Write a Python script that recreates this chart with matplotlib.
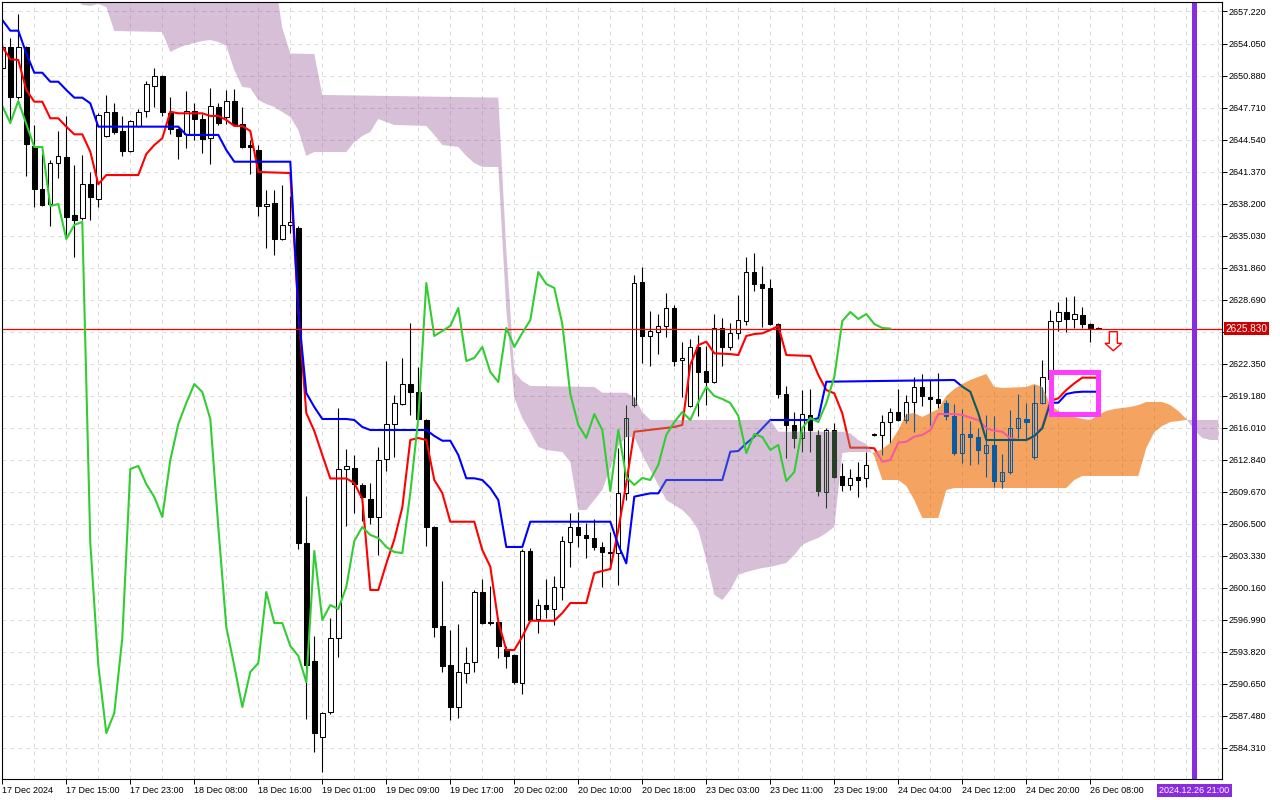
import numpy as np
import matplotlib
matplotlib.use('Agg')
import matplotlib.pyplot as plt
from matplotlib.path import Path
from matplotlib.patches import PathPatch, Rectangle, Polygon
from matplotlib.transforms import blended_transform_factory

plt.rcParams['font.family'] = ['Liberation Sans', 'DejaVu Sans']

# XAUUSD H1 candles, bar 0 = 17 Dec 2024 07:00
opens = [2651.63, 2653.71, 2648.76, 2653.71, 2643.91, 2639.65, 2638.16, 2642.22, 2642.82, 2637.07,
         2636.78, 2640.14, 2638.66, 2644.89, 2647.27, 2645.39, 2643.41, 2645.89, 2647.37, 2649.85,
         2650.84, 2647.17, 2645.59, 2645.09, 2647.37, 2646.58, 2644.70, 2647.77, 2646.78, 2648.36,
         2646.08, 2644.00, 2643.51, 2637.97, 2638.26, 2634.70, 2636.09, 2635.79, 2604.60, 2592.92,
         2585.40, 2587.87, 2595.20, 2611.93, 2612.03, 2610.35, 2608.96, 2607.18, 2612.92, 2616.38,
         2618.36, 2620.34, 2619.55, 2616.78, 2606.19, 2596.39, 2592.52, 2588.37, 2591.73, 2592.82,
         2599.75, 2596.78, 2596.78, 2594.11, 2593.52, 2590.74, 2603.81, 2597.08, 2598.46, 2598.07,
         2600.25, 2604.70, 2606.19, 2605.40, 2605.10, 2604.21, 2603.71, 2603.61, 2609.55, 2618.26,
         2630.44, 2625.10, 2625.49, 2626.09, 2627.87, 2622.72, 2618.17, 2624.01, 2621.63, 2620.54,
         2625.89, 2624.01, 2625.39, 2626.58, 2631.43, 2630.24, 2629.85, 2626.28, 2619.35, 2616.29,
         2615.00, 2617.28, 2615.30, 2609.65, 2615.79, 2611.24, 2610.35, 2611.14, 2611.04, 2615.39,
         2615.30, 2616.58, 2617.57, 2616.78, 2618.56, 2620.05, 2619.06, 2618.86, 2618.46, 2617.18,
         2613.51, 2615.39, 2615.10, 2613.51, 2614.31, 2610.74, 2611.63, 2615.99, 2616.88, 2613.12,
         2618.46, 2620.84, 2626.58, 2627.47, 2626.78, 2627.17, 2626.28, 2625.89]
highs = [2654.00, 2654.60, 2656.97, 2653.81, 2645.98, 2643.11, 2642.52, 2645.39, 2646.88, 2642.02,
         2643.01, 2641.33, 2647.17, 2648.96, 2648.16, 2646.88, 2646.48, 2647.57, 2650.34, 2651.63,
         2650.94, 2648.76, 2645.69, 2649.35, 2648.16, 2647.07, 2649.65, 2648.16, 2649.45, 2649.55,
         2647.77, 2644.50, 2644.00, 2639.55, 2639.55, 2640.05, 2638.96, 2635.99, 2609.26, 2595.40,
         2587.87, 2597.18, 2617.97, 2613.91, 2613.32, 2610.54, 2610.54, 2614.11, 2622.62, 2619.25,
         2622.92, 2626.38, 2622.03, 2616.88, 2606.29, 2600.84, 2595.99, 2596.58, 2594.31, 2599.95,
         2601.04, 2600.35, 2596.88, 2594.41, 2593.61, 2604.01, 2604.11, 2599.06, 2601.04, 2601.34,
         2605.30, 2607.57, 2607.67, 2606.58, 2606.98, 2604.70, 2605.69, 2614.01, 2618.26, 2631.14,
         2631.93, 2627.57, 2627.27, 2629.35, 2628.17, 2624.50, 2624.80, 2625.20, 2624.11, 2627.27,
         2626.88, 2626.38, 2629.15, 2632.92, 2633.31, 2632.03, 2630.74, 2626.38, 2620.15, 2617.57,
         2619.75, 2619.85, 2615.79, 2615.99, 2616.48, 2612.52, 2611.93, 2612.62, 2613.61, 2615.49,
         2617.28, 2617.97, 2619.85, 2619.25, 2621.04, 2621.33, 2620.74, 2621.43, 2618.76, 2618.36,
         2617.87, 2616.68, 2615.99, 2617.28, 2617.18, 2613.42, 2617.77, 2619.35, 2618.46, 2620.25,
         2622.72, 2627.67, 2628.46, 2628.96, 2629.06, 2627.97, 2626.38, 2626.00]
lows = [2651.43, 2646.18, 2648.56, 2640.94, 2637.87, 2637.97, 2635.99, 2640.74, 2635.09, 2632.91,
        2636.58, 2636.58, 2637.87, 2644.80, 2645.09, 2642.92, 2643.30, 2645.80, 2646.78, 2647.77,
        2646.88, 2645.09, 2642.62, 2643.71, 2644.50, 2643.21, 2642.12, 2645.98, 2646.08, 2645.89,
        2643.70, 2641.13, 2636.98, 2633.81, 2633.12, 2634.60, 2635.29, 2604.01, 2587.18, 2583.91,
        2581.93, 2587.70, 2593.32, 2606.29, 2607.57, 2606.78, 2606.48, 2603.42, 2611.73, 2613.12,
        2618.26, 2617.28, 2616.78, 2604.31, 2595.30, 2591.83, 2587.08, 2587.28, 2590.74, 2591.83,
        2596.58, 2596.49, 2593.22, 2592.23, 2590.64, 2589.65, 2596.88, 2595.69, 2597.18, 2596.49,
        2598.96, 2602.23, 2604.21, 2603.12, 2603.91, 2600.25, 2602.03, 2600.45, 2608.86, 2618.07,
        2622.42, 2622.13, 2623.31, 2625.00, 2622.13, 2619.06, 2618.07, 2617.18, 2618.26, 2620.44,
        2622.13, 2623.71, 2624.80, 2626.19, 2629.55, 2625.99, 2626.19, 2618.96, 2613.02, 2614.01,
        2613.61, 2613.61, 2609.26, 2608.07, 2611.04, 2609.75, 2609.85, 2609.16, 2610.15, 2615.20,
        2613.32, 2614.50, 2616.68, 2616.48, 2615.59, 2618.17, 2616.29, 2617.97, 2616.78, 2613.32,
        2612.52, 2612.33, 2612.42, 2611.14, 2610.15, 2610.05, 2611.43, 2615.00, 2614.90, 2612.92,
        2618.36, 2617.77, 2625.59, 2625.49, 2625.89, 2625.89, 2624.50, 2625.75]
closes = [2653.71, 2648.76, 2653.71, 2644.10, 2639.65, 2638.07, 2642.22, 2642.92, 2636.88, 2636.58,
          2640.14, 2638.86, 2646.97, 2647.27, 2645.29, 2643.41, 2646.38, 2647.27, 2650.04, 2650.84,
          2647.27, 2645.59, 2644.89, 2647.37, 2646.58, 2644.60, 2647.87, 2646.18, 2648.36, 2646.08,
          2643.81, 2643.81, 2637.97, 2638.16, 2634.70, 2636.09, 2636.38, 2604.60, 2592.52, 2585.79,
          2587.77, 2595.20, 2611.93, 2612.23, 2610.44, 2609.16, 2607.18, 2612.82, 2616.38, 2618.46,
          2620.34, 2619.55, 2616.88, 2606.19, 2596.29, 2592.43, 2588.37, 2591.83, 2592.72, 2599.75,
          2596.68, 2596.68, 2594.41, 2593.42, 2590.84, 2603.81, 2596.98, 2598.46, 2598.07, 2600.25,
          2604.80, 2606.19, 2605.40, 2605.10, 2604.21, 2603.71, 2603.61, 2609.55, 2616.98, 2630.34,
          2625.10, 2625.59, 2626.09, 2627.87, 2622.62, 2622.92, 2624.01, 2621.53, 2620.54, 2625.89,
          2624.01, 2625.39, 2626.68, 2631.43, 2630.24, 2629.85, 2626.28, 2619.35, 2616.29, 2615.00,
          2617.37, 2615.79, 2609.75, 2615.79, 2611.14, 2610.35, 2611.04, 2610.84, 2612.33, 2615.30,
          2616.58, 2617.57, 2616.78, 2618.56, 2620.05, 2619.16, 2618.86, 2618.46, 2617.18, 2613.51,
          2615.39, 2615.10, 2613.81, 2614.31, 2610.74, 2611.63, 2615.99, 2616.98, 2616.58, 2618.46,
          2621.04, 2626.58, 2627.47, 2626.78, 2627.27, 2626.28, 2625.89, 2625.83]

# Ichimoku lines, read as (bar, value) vertices
tenkan_idx = [0, 1, 2, 3, 4, 5, 6, 7, 8, 9, 10, 11, 12, 13, 17, 18, 19, 20, 21, 22, 25, 26, 27, 28, 29, 30,
              31, 32, 36, 37, 38, 39, 40, 41, 43, 44, 45, 46, 47, 48, 49, 50, 51, 52, 53, 54, 55, 56, 59,
              60, 61, 62, 63, 64, 65, 66, 69, 70, 71, 73, 74, 76, 77, 78, 79, 84, 85, 86, 87, 88, 89, 91,
              92, 93, 94, 95, 96, 97, 98, 101, 102, 103, 104, 105, 106, 108, 109, 110, 111, 112, 113,
              114, 115, 116, 117, 119, 120, 121, 122, 123, 124, 125, 126, 127, 128, 129, 130, 131, 132,
              133, 134, 135, 137]
tenkan_val = [2653.74, 2652.49, 2652.42, 2649.45, 2648.29, 2648.29, 2646.65, 2646.65, 2645.82, 2645.06,
              2645.06, 2643.34, 2640.11, 2641.03, 2641.03, 2643.11, 2644.00, 2644.67, 2647.30, 2647.14,
              2647.14, 2646.88, 2646.88, 2646.48, 2645.89, 2645.89, 2645.39, 2641.33, 2641.23, 2627.67,
              2617.47, 2615.69, 2613.32, 2610.99, 2610.99, 2610.54, 2608.96, 2599.95, 2599.95, 2602.56,
              2604.94, 2608.13, 2614.80, 2615.00, 2614.80, 2610.84, 2609.55, 2606.71, 2606.71, 2603.91,
              2602.26, 2596.81, 2594.01, 2594.01, 2595.33, 2596.91, 2596.91, 2597.67, 2598.66, 2598.66,
              2601.63, 2602.03, 2605.89, 2610.54, 2615.62, 2616.09, 2616.29, 2622.23, 2624.20, 2624.53,
              2623.38, 2623.31, 2623.21, 2625.10, 2625.29, 2625.36, 2625.69, 2626.09, 2623.21, 2623.12,
              2621.24, 2619.75, 2619.42, 2617.44, 2614.04, 2614.04, 2613.98, 2612.65, 2612.82, 2614.53,
              2614.63, 2615.13, 2615.30, 2615.79, 2617.37, 2617.37, 2617.28, 2617.01, 2616.78, 2615.96,
              2615.72, 2615.62, 2614.97, 2614.80, 2614.80, 2615.13, 2616.12, 2618.66, 2618.93, 2619.75,
              2620.41, 2620.97, 2620.97]
kijun_idx = [0, 1, 2, 3, 4, 5, 6, 7, 8, 9, 10, 11, 12, 22, 23, 27, 28, 29, 36, 37, 38, 39, 40, 43, 44, 45,
             46, 53, 54, 55, 56, 57, 58, 59, 60, 61, 62, 63, 65, 66, 76, 77, 78, 79, 80, 81, 82, 83, 90,
             91, 92, 93, 94, 95, 96, 101, 102, 103, 119, 120, 121, 122, 123, 128, 129, 130, 131, 132,
             133, 134, 135, 137]
kijun_val = [2656.38, 2655.32, 2655.32, 2653.08, 2651.16, 2651.16, 2650.27, 2650.27, 2649.45, 2648.69,
             2648.69, 2648.13, 2645.82, 2645.82, 2645.00, 2645.00, 2643.51, 2642.35, 2642.35, 2627.61,
             2619.45, 2618.07, 2616.88, 2616.88, 2616.78, 2616.09, 2615.79, 2615.79, 2615.20, 2614.73,
             2614.73, 2613.32, 2611.01, 2611.01, 2610.84, 2610.05, 2608.86, 2604.21, 2604.21, 2606.71,
             2606.71, 2604.40, 2602.59, 2609.19, 2609.36, 2609.52, 2609.52, 2610.84, 2610.84, 2613.64,
             2613.71, 2614.47, 2615.13, 2615.96, 2616.78, 2616.78, 2616.95, 2620.57, 2620.74, 2620.08,
             2619.58, 2617.44, 2614.80, 2614.80, 2615.20, 2615.96, 2618.49, 2618.49, 2619.35, 2619.52,
             2619.58, 2619.58]
span_a_idx = [0, 8, 9, 10, 11, 12, 13, 14, 20, 21, 22, 23, 24, 25, 26, 27, 28, 29, 30, 31, 32, 33, 34,
              35, 36, 37, 38, 39, 43, 44, 45, 46, 47, 48, 49, 53, 54, 55, 56, 57, 58, 59, 60, 62, 63, 64,
              65, 66, 67, 68, 69, 70, 71, 72, 73, 74, 75, 76, 77, 78, 79, 80, 81, 82, 83, 84, 85, 86, 87,
              88, 89, 90, 91, 92, 93, 94, 95, 96, 97, 98, 99, 100, 101, 102, 103, 104, 105, 106, 108,
              109, 110, 111, 112, 113, 114, 115, 116, 117, 118, 119, 120, 121, 122, 123, 124, 125, 128,
              129, 130, 131, 132, 133, 134, 135, 136, 137, 138, 139, 140, 141, 142, 143, 145, 146, 147,
              148, 149, 150, 151, 152]
span_a_val = [2661.33, 2659.35, 2658.56, 2657.87, 2657.77, 2657.96, 2657.67, 2655.29, 2655.19, 2653.21,
              2653.61, 2653.91, 2654.10, 2654.30, 2654.40, 2654.20, 2653.81, 2651.43, 2649.75, 2649.65,
              2648.46, 2648.06, 2647.77, 2647.27, 2646.78, 2645.49, 2642.92, 2643.31, 2643.31, 2644.30,
              2644.90, 2645.29, 2646.58, 2646.28, 2645.99, 2645.89, 2645.00, 2644.00, 2643.91, 2643.81,
              2642.92, 2642.22, 2641.83, 2641.83, 2627.67, 2618.96, 2616.98, 2615.59, 2614.11, 2613.81,
              2613.71, 2613.61, 2612.62, 2607.87, 2607.87, 2608.86, 2609.85, 2612.03, 2614.21, 2615.10,
              2615.10, 2613.32, 2611.83, 2610.35, 2608.86, 2608.37, 2607.87, 2607.08, 2605.89, 2602.92,
              2599.46, 2598.96, 2599.95, 2601.44, 2601.73, 2601.93, 2602.13, 2602.23, 2602.43, 2602.62,
              2603.42, 2604.41, 2604.80, 2605.10, 2605.59, 2606.19, 2613.51, 2613.61, 2613.61, 2613.54,
              2613.91, 2614.50, 2615.79, 2617.37, 2617.47, 2617.08, 2617.47, 2617.87, 2619.16, 2619.85,
              2620.34, 2620.74, 2621.04, 2621.33, 2620.05, 2619.95, 2620.05, 2620.34, 2620.05, 2618.26,
              2617.67, 2617.37, 2617.08, 2616.88, 2616.78, 2617.27, 2617.67, 2617.87, 2617.97, 2618.07,
              2618.26, 2618.56, 2618.56, 2618.26, 2617.67, 2616.88, 2615.79, 2615.00, 2614.80, 2614.80]
span_b_idx = [0, 33, 34, 35, 36, 39, 40, 62, 63, 64, 65, 66, 74, 75, 78, 79, 80, 81, 96, 97, 105, 106,
              107, 108, 109, 110, 112, 113, 114, 115, 117, 118, 119, 133, 134, 135, 142, 143, 144, 145,
              146, 147, 148, 152]
span_b_val = [2662.32, 2662.32, 2660.84, 2655.59, 2653.06, 2653.01, 2648.96, 2648.69, 2633.61, 2621.53,
              2620.64, 2620.15, 2620.05, 2619.48, 2619.48, 2619.06, 2617.57, 2616.78, 2616.78, 2615.62,
              2615.62, 2615.46, 2614.80, 2614.40, 2613.22, 2610.84, 2610.84, 2610.25, 2608.86, 2607.08,
              2607.08, 2609.85, 2610.05, 2610.05, 2610.84, 2611.24, 2611.24, 2614.01, 2615.59, 2616.19,
              2616.58, 2616.68, 2616.78, 2616.78]

x_tick_bars = [0, 8, 16, 24, 32, 40, 48, 56, 64, 72, 80, 88, 96, 104, 112, 120, 128, 136]
x_tick_labels = ['17 Dec 2024', '17 Dec 15:00', '17 Dec 23:00', '18 Dec 08:00', '18 Dec 16:00',
                 '19 Dec 01:00', '19 Dec 09:00', '19 Dec 17:00', '20 Dec 02:00', '20 Dec 10:00',
                 '20 Dec 18:00', '23 Dec 03:00', '23 Dec 11:00', '23 Dec 19:00', '24 Dec 04:00',
                 '24 Dec 12:00', '24 Dec 20:00', '26 Dec 08:00']
y_ticks = [2657.22, 2654.05, 2650.88, 2647.71, 2644.54, 2641.37, 2638.20, 2635.03, 2631.86, 2628.69,
           2625.52, 2622.35, 2619.18, 2616.01, 2612.84, 2609.67, 2606.50, 2603.33, 2600.16, 2596.99,
           2593.82, 2590.65, 2587.48, 2584.31]
last_price = 2625.83
marker_bar = 149
marker_label = '2024.12.26 21:00'

opens = np.array(opens)
highs = np.array(highs)
lows = np.array(lows)
closes = np.array(closes)
n = len(closes)
bars = np.arange(n)
cloud_x = np.arange(153)
span_a = np.interp(cloud_x, span_a_idx, span_a_val)
span_b = np.interp(cloud_x, span_b_idx, span_b_val)

fig = plt.figure(figsize=(12.8, 8), dpi=100)
ax = fig.add_axes([2 / 1280, 21 / 800, 1220 / 1280, 777 / 800])
x0, x1 = -0.0375, 152.4625
y0, y1 = 2581.24, 2658.16
ax.set_xlim(x0, x1)
ax.set_ylim(y0, y1)
grid_x = np.arange(0, 153, 4)


def draw_layer(col, clip=None, z=2.0):
    arts = []
    arts.append(ax.hlines(y_ticks, x0, x1, colors=col['grid'], linestyles=(0, (4, 4)), lw=0.72, zorder=z))
    arts.append(ax.vlines(grid_x, y0, y1, colors=col['grid'], linestyles=(0, (4, 4)), lw=0.72, zorder=z))
    arts.append(ax.vlines(bars, lows, highs, colors=col['candle'], lw=0.8, zorder=z + 0.1))
    up = closes >= opens
    b1 = ax.bar(bars[up], np.maximum((closes - opens)[up], 0.05), bottom=opens[up], width=0.55,
                facecolor=col['up_face'], edgecolor=col['candle'], lw=0.75, zorder=z + 0.2)
    b2 = ax.bar(bars[~up], np.maximum((opens - closes)[~up], 0.05), bottom=closes[~up], width=0.55,
                facecolor=col['candle'], edgecolor=col['candle'], lw=0.75, zorder=z + 0.2)
    arts += list(b1.patches) + list(b2.patches)
    arts += ax.plot(tenkan_idx, tenkan_val, color=col['tenkan'], lw=1.5, zorder=z + 0.3)
    arts += ax.plot(kijun_idx, kijun_val, color=col['kijun'], lw=1.5, zorder=z + 0.3)
    if clip is not None:
        for a in arts:
            a.set_clip_path(clip)


def clip_from(coll):
    path = Path.make_compound_path(*coll.get_paths())
    return PathPatch(path, transform=ax.transData)


# chart as drawn before the cloud
draw_layer(dict(grid='#dcdcdc', candle='black', up_face='white', tenkan='#ff0000', kijun='#0000ff'))

orange = ax.fill_between(cloud_x, span_a, span_b, where=span_a >= span_b, interpolate=True,
                         facecolor='#f4a460', edgecolor='none', lw=0, zorder=4)
thistle = ax.fill_between(cloud_x, span_a, span_b, where=span_a < span_b, interpolate=True,
                          facecolor='#d8bfd8', edgecolor='none', lw=0, zorder=4)

# MT5 mixes the filling with what lies below it
draw_layer(dict(grid='#c0a6c0', candle='#274027', up_face='none', tenkan='#d84027', kijun='#2740d8'),
           clip=clip_from(thistle), z=5)
draw_layer(dict(grid='#dc944f', candle='#0b5b9f', up_face='none', tenkan='#f45b9f', kijun='#0b5b60'),
           clip=clip_from(orange), z=5)

# chikou span: close shifted back 26 bars
ax.plot(bars[:n - 26], closes[26:], color='#32cd32', lw=1.5, zorder=7)

ax.axhline(last_price, color='#ff0000', lw=0.9, zorder=6.5)
ax.axvline(marker_bar, color='#8a2be2', lw=3.6, zorder=8)

ax.add_patch(Rectangle((131.06, 2617.42), 5.84, 4.13, fill=False, edgecolor='#ff3cff', lw=3.6, zorder=9))
arrow = [(138.38, 2625.52), (139.38, 2625.52), (139.38, 2624.37), (139.93, 2624.37),
         (138.88, 2623.64), (137.84, 2624.37), (138.38, 2624.37)]
ax.add_patch(Polygon(arrow, closed=True, facecolor='white', edgecolor='#ff0000', lw=1.0, zorder=9))

for s in ax.spines.values():
    s.set_color('black')
    s.set_linewidth(0.8)
    s.set_zorder(10)

# the price label covers the 2625.520 tick label, as in the terminal
ax.yaxis.tick_right()
ax.set_yticks(y_ticks)
ax.set_yticklabels(['' if abs(v - last_price) < 1 else f'{v:.3f}' for v in y_ticks])
ax.tick_params(axis='y', which='both', direction='out', length=3.5, width=0.7, pad=1,
               labelsize=6.5, right=True, left=False, colors='black')
ax.set_xticks(x_tick_bars)
ax.set_xticklabels(x_tick_labels, ha='left')
ax.tick_params(axis='x', direction='out', length=3.5, width=0.7, pad=1.5, labelsize=6.5, colors='black')

tr_x = blended_transform_factory(ax.transData, ax.transAxes)
ax.text(marker_bar, -0.0145, marker_label, transform=tr_x, ha='center', va='center', color='white',
        fontsize=6.5, clip_on=False, zorder=11,
        bbox=dict(boxstyle='square,pad=0.25', facecolor='#8a2be2', edgecolor='none'))
tr_y = blended_transform_factory(ax.transAxes, ax.transData)
ax.text(1.0028, last_price, f'{last_price:.3f}', transform=tr_y, ha='left', va='center', color='white',
        fontsize=7.2, clip_on=False, zorder=11,
        bbox=dict(boxstyle='square,pad=0.18', facecolor='#cc0000', edgecolor='none'))

fig.savefig('out.png', dpi=100, facecolor='white')
